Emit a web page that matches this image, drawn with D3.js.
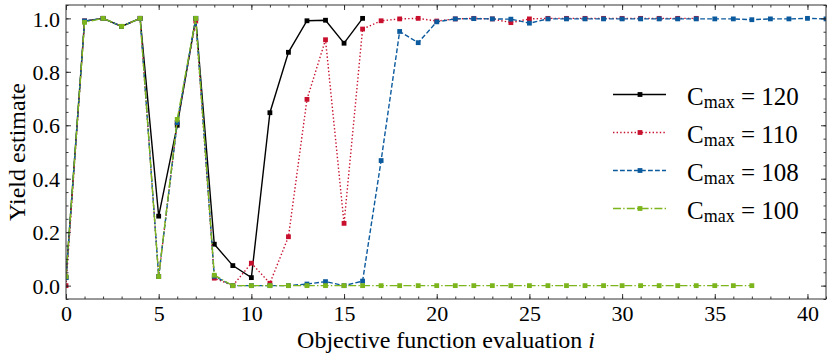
<!DOCTYPE html>
<html><head><meta charset="utf-8">
<script src="https://cdn.jsdelivr.net/npm/d3@7"></script>
<style>
body{margin:0;background:#fff;}
svg{display:block;}
text{font-family:"Liberation Serif","Times New Roman",serif;fill:#000;}
</style></head>
<body>
<script>
// ---- data ----
const x120 = d3.range(0, 17);
const y120 = [0.03, 0.99, 1.0, 0.97, 1.0, 0.26, 0.60, 1.0, 0.155, 0.075, 0.03, 0.647, 0.873, 0.991, 0.993, 0.907, 1.0];
const x110 = d3.range(0, 35);
const y110 = [0.0, 0.99, 1.0, 0.97, 1.0, 0.034, 0.61, 0.99, 0.028, 0.0, 0.084, 0.009, 0.183, 0.697, 0.920, 0.233, 0.960, 0.991, 0.998, 1.0, 0.99, 0.998, 1.0, 0.998, 0.984, 0.998, 1.0, 1.0, 1.0, 1.0, 1.0, 1.0, 1.0, 1.0, 1.0];
const x108 = d3.range(0, 42);
const y108 = [0.03, 0.99, 1.0, 0.97, 1.0, 0.034, 0.61, 1.0, 0.035, 0.0, 0.0, 0.0, 0.0, 0.006, 0.015, 0.0, 0.017, 0.468, 0.951, 0.909, 0.987, 0.998, 0.999, 0.998, 0.997, 0.982, 0.998, 0.998, 0.998, 0.998, 0.998, 0.998, 0.998, 0.998, 0.998, 0.998, 0.998, 0.995, 0.998, 0.998, 1.0, 0.998];
const x100 = d3.range(0, 38);
const y100 = [0.034, 0.985, 1.0, 0.97, 1.0, 0.034, 0.622, 1.0, 0.039].concat(d3.range(9, 38).map(() => 0.0));
const seriesLabels = ["120", "110", "108", "100"];
const xTicks = [0, 5, 10, 15, 20, 25, 30, 35, 40];
const yTicks = [0.0, 0.2, 0.4, 0.6, 0.8, 1.0];
const xLabel = "Objective function evaluation ";
const yLabel = "Yield estimate";

// ---- layout ----
const W = 831, H = 358;
const L = 66, R = 826, T = 5, B = 299;
const svg = d3.select("body").append("svg").attr("width", W).attr("height", H);
const x = d3.scaleLinear().domain([0, 41]).range([L, R]);
const y = d3.scaleLinear().domain([-0.05, 1.05]).range([B, T]);

const series = [
  {xs: x120, ys: y120, color: "#000000", dash: null, label: seriesLabels[0]},
  {xs: x110, ys: y110, color: "#c8102e", dash: "1.4,2.2", label: seriesLabels[1]},
  {xs: x108, ys: y108, color: "#0c5a9e", dash: "4.8,2.2", label: seriesLabels[2]},
  {xs: x100, ys: y100, color: "#7cb51c", dash: "8,2.2,1.4,2.2", label: seriesLabels[3]},
];

const clip = svg.append("clipPath").attr("id", "c").append("rect")
  .attr("x", L).attr("y", T).attr("width", R - L).attr("height", B - T);

const plot = svg.append("g").attr("clip-path", "url(#c)");
const line = d3.line().x(d => x(d[0])).y(d => y(d[1]));
series.forEach(s => {
  const pts = s.xs.map((v, i) => [v, s.ys[i]]);
  plot.append("path").datum(pts).attr("d", line)
    .attr("fill", "none").attr("stroke", s.color).attr("stroke-width", 1.4)
    .attr("stroke-dasharray", s.dash);
  plot.selectAll(null).data(pts).enter().append("rect")
    .attr("x", d => x(d[0]) - 2.4).attr("y", d => y(d[1]) - 2.4)
    .attr("width", 4.8).attr("height", 4.8).attr("fill", s.color);
});

// ---- axes (ticks inward on all sides) ----
const xMinor = d3.range(0, 42);
const yMinor = d3.range(-1, 22).map(v => +(v * 0.05).toFixed(2)).filter(v => v >= -0.05 && v <= 1.05);
function styleAxis(g) {
  g.select(".domain").remove();
  g.selectAll("line").attr("stroke", "#222").attr("stroke-width", 0.9);
}
const fs = 22;
// bottom
svg.append("g").attr("transform", `translate(0,${B})`)
  .call(d3.axisBottom(x).tickValues(xMinor).tickSize(-2.5).tickFormat(""))
  .call(styleAxis);
const bx = svg.append("g").attr("transform", `translate(0,${B})`)
  .call(d3.axisBottom(x).tickValues(xTicks).tickSize(-5).tickPadding(12).tickFormat(d3.format("d")))
  .call(styleAxis);
bx.selectAll("text").attr("font-size", fs).attr("dy", "0.71em").attr("y", 6);
// top
svg.append("g").attr("transform", `translate(0,${T})`)
  .call(d3.axisTop(x).tickValues(xMinor).tickSize(-2.5).tickFormat("")).call(styleAxis);
svg.append("g").attr("transform", `translate(0,${T})`)
  .call(d3.axisTop(x).tickValues(xTicks).tickSize(-5).tickFormat("")).call(styleAxis);
// left
svg.append("g").attr("transform", `translate(${L},0)`)
  .call(d3.axisLeft(y).tickValues(yMinor).tickSize(-2.5).tickFormat("")).call(styleAxis);
const ly = svg.append("g").attr("transform", `translate(${L},0)`)
  .call(d3.axisLeft(y).tickValues(yTicks).tickSize(-5).tickFormat(d3.format(".1f")))
  .call(styleAxis);
ly.selectAll("text").attr("font-size", fs).attr("x", -6).attr("dy", "0.35em");
// right
svg.append("g").attr("transform", `translate(${R},0)`)
  .call(d3.axisRight(y).tickValues(yMinor).tickSize(-2.5).tickFormat("")).call(styleAxis);
svg.append("g").attr("transform", `translate(${R},0)`)
  .call(d3.axisRight(y).tickValues(yTicks).tickSize(-5).tickFormat("")).call(styleAxis);

// frame
svg.append("rect").attr("x", L).attr("y", T).attr("width", R - L).attr("height", B - T)
  .attr("fill", "none").attr("stroke", "#333").attr("stroke-width", 1);

// axis labels
const xl = svg.append("text").attr("x", (L + R) / 2).attr("y", 348)
  .attr("text-anchor", "middle").attr("font-size", 24);
xl.append("tspan").text(xLabel);
xl.append("tspan").attr("font-style", "italic").text("i");
svg.append("text").attr("transform", `translate(25,${(T + B) / 2}) rotate(-90)`)
  .attr("text-anchor", "middle").attr("font-size", 24).text(yLabel);

// legend
const lg = svg.append("g");
series.forEach((s, i) => {
  const cy = 94.5 + i * 38;
  lg.append("line").attr("x1", 613).attr("x2", 666).attr("y1", cy).attr("y2", cy)
    .attr("stroke", s.color).attr("stroke-width", 1.4).attr("stroke-dasharray", s.dash);
  lg.append("rect").attr("x", 640 - 2.4).attr("y", cy - 2.4).attr("width", 4.8).attr("height", 4.8).attr("fill", s.color);
  const t = lg.append("text").attr("x", 687).attr("y", cy + 10).attr("font-size", 25);
  t.append("tspan").text("C");
  t.append("tspan").attr("font-size", 18).attr("dy", 3).text("max");
  t.append("tspan").attr("dy", -3).text(" = " + s.label);
});
</script>
</body></html>
